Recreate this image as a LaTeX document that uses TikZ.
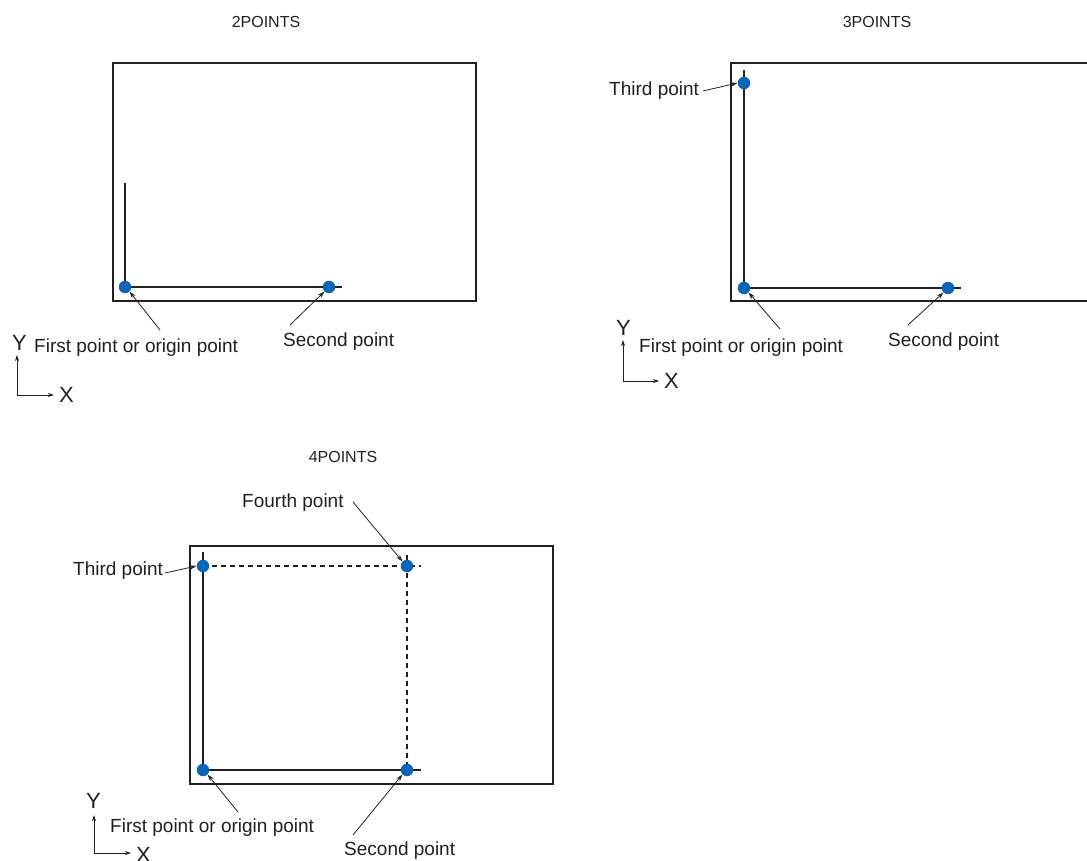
\documentclass[tikz,border=0pt]{standalone}
\usepackage{fontspec}
\setmainfont{Liberation Sans}
\usetikzlibrary{arrows.meta}
\definecolor{dotblue}{HTML}{0A66B8}
\definecolor{ink}{HTML}{231F20}
\begin{document}
\begin{tikzpicture}[x=1pt,y=-1pt,
  frame/.style={draw=ink,line width=1.4pt},
  track/.style={draw=ink,line width=2.4pt},
  dtrack/.style={draw=ink,line width=1.8pt,dash pattern=on 5pt off 4pt},
  pt/.style={circle,fill=dotblue,inner sep=0pt,minimum size=12.5pt},
  lbl/.style={inner sep=0pt,anchor=base west,font=\fontsize{19}{22}\selectfont,text=ink},
  ttl/.style={inner sep=0pt,anchor=base,font=\fontsize{16}{18}\selectfont,text=ink},
  axl/.style={inner sep=0pt,anchor=base west,font=\fontsize{22}{24}\selectfont,text=ink},
  lead/.style={draw=ink,line width=0.8pt,-{Stealth[length=7pt,width=4.5pt]}},
  axis/.style={draw=ink,line width=0.9pt,{Stealth[length=6pt,width=4pt]}-{Stealth[length=6pt,width=4pt]}}]
\useasboundingbox (0,0) rectangle (1087,861);

% ---------------- 2POINTS ----------------
\node[ttl] (t2) at (266,28) {2POINTS};
\draw[frame] (113,63) rectangle (476,301);
\draw[track] (125,183) -- (125,287) -- (342,287);
\node[pt] (a1) at (125,287) {};
\node[pt] (a2) at (329,287) {};
\node[lbl] (a1l) at (34,352) {First point or origin point};
\node[lbl] (a2l) at (283,346) {Second point};
\coordinate (a1t) at (160,330);
\coordinate (a2t) at (290,325);
\draw[lead] (a1t) -- (a1.south east);
\draw[lead] (a2t) -- (a2.south west);
\node[axl] (ay) at (12,350) {Y};
\node[axl] (ax) at (59,402) {X};
\coordinate (ao) at (17,395);
\coordinate (aty) at (17,355);
\coordinate (atx) at (54,395);
\draw[axis] (aty) -- (ao) -- (atx);

% ---------------- 3POINTS ----------------
\node[ttl] (t3) at (877,28) {3POINTS};
\draw[frame] (1090,63) -- (731,63) -- (731,301) -- (1090,301);
\draw[track] (744,70) -- (744,288) -- (961,288);
\node[pt] (b3) at (744,83) {};
\node[pt] (b1) at (744,288) {};
\node[pt] (b2) at (948,288) {};
\node[lbl] (b3l) at (609,96) {Third point};
\node[lbl] (b1l) at (639,352) {First point or origin point};
\node[lbl] (b2l) at (888,346) {Second point};
\coordinate (b3t) at (703,91);
\coordinate (b1t) at (780,329);
\coordinate (b2t) at (908,325);
\draw[lead] (b3t) -- (b3.west);
\draw[lead] (b1t) -- (b1.south east);
\draw[lead] (b2t) -- (b2.south west);
\node[axl] (by) at (616,335) {Y};
\node[axl] (bx) at (664,388) {X};
\coordinate (bo) at (623,381);
\coordinate (bty) at (623,340);
\coordinate (btx) at (659,381);
\draw[axis] (bty) -- (bo) -- (btx);

% ---------------- 4POINTS ----------------
\node[ttl] (t4) at (343,462) {4POINTS};
\draw[frame] (190,546) rectangle (553,784);
\draw[track] (203,552) -- (203,770) -- (421,770);
\draw[dtrack] (203,566) -- (421,566);
\draw[dtrack] (407,555) -- (407,770);
\node[pt] (c3) at (203,566) {};
\node[pt] (c4) at (407,566) {};
\node[pt] (c1) at (203,770) {};
\node[pt] (c2) at (407,770) {};
\node[lbl] (c4l) at (242,507) {Fourth point};
\node[lbl] (c3l) at (73,575) {Third point};
\node[lbl] (c1l) at (110,832) {First point or origin point};
\node[lbl] (c2l) at (344,855) {Second point};
\coordinate (c4t) at (353,502);
\coordinate (c3t) at (165,573);
\coordinate (c1t) at (238,812);
\coordinate (c2t) at (353,835);
\draw[lead] (c4t) -- (c4.north west);
\draw[lead] (c3t) -- (c3.west);
\draw[lead] (c1t) -- (c1.south east);
\draw[lead] (c2t) -- (c2.south west);
\node[axl] (cy) at (86,808) {Y};
\node[axl] (cx) at (136,862) {X};
\coordinate (co) at (94,853);
\coordinate (cty) at (94,815);
\coordinate (ctx) at (131,853);
\draw[axis] (cty) -- (co) -- (ctx);
\end{tikzpicture}
\end{document}
